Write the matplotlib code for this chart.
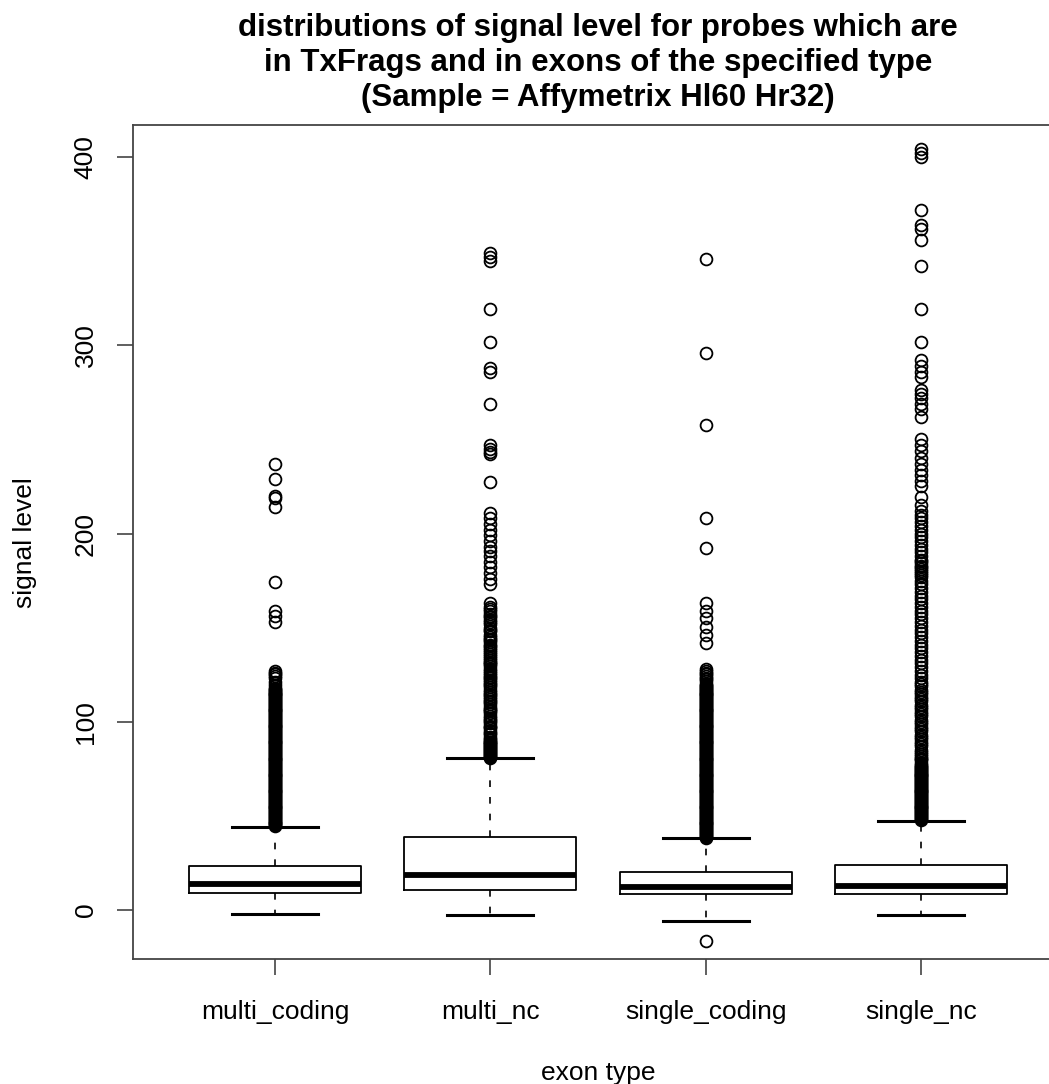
import matplotlib
matplotlib.use("Agg")
import matplotlib.pyplot as plt

# ---------------- data ----------------
categories = ["multi_coding", "multi_nc", "single_coding", "single_nc"]
q1 = [9.3, 10.8, 8.5, 8.3]
medians = [14.1, 18.6, 12.4, 12.9]
q3 = [23.5, 38.8, 20.3, 23.9]
whisker_low = [-2.1, -2.7, -5.7, -2.7]
whisker_high = [44.1, 80.6, 38.1, 47.5]

outliers_multi_coding = [
    237, 229, 220, 219, 214, 174.5, 159, 156, 153,
    127, 126, 124.5, 123, 121, 119.5, 118, 117, 116, 115, 114, 113, 112, 111,
    110, 109, 108, 107, 106, 105, 104, 103, 102, 101, 100, 99, 98, 97, 96,
    95, 94, 93, 92, 91, 90, 89, 88, 87, 86, 85, 84, 83, 82, 81, 80, 79, 78,
    77, 76, 75, 74, 73, 72, 71, 70, 69, 68, 67, 66, 65, 64, 63, 62, 61, 60,
    59, 58, 57, 56, 55, 54, 53, 52, 51, 50, 49, 48, 47.5, 47, 46.5, 46, 45.5,
    45, 44.5,
    125.5, 117.5, 116.5, 115.5, 114.5, 113.5, 112.5, 111.5, 110.5, 109.5,
    108.5, 107.5, 106.5, 105.5, 104.5, 103.5, 102.5, 101.5, 100.5, 99.5,
    98.5, 97.5, 96.5, 95.5, 94.5, 93.5, 92.5, 91.5, 90.5, 89.5, 88.5, 87.5,
    86.5, 85.5, 84.5, 83.5, 82.5, 81.5, 80.5, 79.5, 78.5, 77.5, 76.5, 75.5,
    74.5, 73.5, 72.5, 71.5, 70.5, 69.5, 68.5, 67.5, 66.5, 65.5, 64.5, 63.5,
    62.5, 61.5, 60.5, 59.5, 58.5, 57.5, 56.5, 55.5, 54.5, 53.5, 52.5, 51.5,
    50.5, 49.5, 48.5,
]
outliers_multi_nc = [
    349, 347, 345, 319, 302, 288, 286, 269, 247, 245, 243.5, 242, 227.5,
    211, 208, 205, 202, 199, 196, 193, 190.5, 188, 185, 182, 179, 176, 173,
    163, 161, 159, 157, 155.5, 154, 152, 150, 148, 146, 144, 142.5, 141, 139,
    137, 135, 133, 131, 129.5, 128, 126, 124, 122, 120, 118.5, 117, 115, 113,
    111, 109.5, 108, 106, 104.5, 103, 101, 99.5, 98, 96.5, 95, 93.5, 92, 90.5,
    89, 88, 87, 86, 85, 84, 83, 82, 81.5, 81,
    160, 156, 153, 149, 145, 143.5, 140, 138, 136, 134, 132, 130.5, 127,
    125, 123, 121, 119.5, 116, 114, 112, 110.5, 107, 105.5, 102, 100.5,
    97, 94, 91, 89.5, 88.5, 87.5, 86.5, 85.5, 84.5, 83.5, 82.5,
]
outliers_single_coding = [
    345.6, 295.7, 257.6, 208, 192.3, 163, 159, 155, 150.5, 146, 142,
    128, 126, 124.5, 123, 121.5, 120, 119, 118, 117, 116, 115, 114, 113, 112,
    111, 110, 109, 108, 107, 106, 105, 104, 103, 102, 101, 100, 99, 98, 97,
    96, 95, 94, 93, 92, 91, 90, 89, 88, 87, 86, 85, 84, 83, 82, 81, 80, 79,
    78, 77, 76, 75, 74, 73, 72, 71, 70, 69, 68, 67, 66, 65, 64, 63, 62, 61,
    60, 59, 58, 57, 56, 55, 54, 53, 52, 51, 50, 49, 48, 47, 46, 45, 44, 43,
    42, 41, 40.5, 40, 39.5, 39, 38.5,
    127, 125.5, 122.5, 119.5, 118.5, 117.5, 116.5, 115.5, 114.5, 113.5,
    112.5, 111.5, 110.5, 109.5, 108.5, 107.5, 106.5, 105.5, 104.5, 103.5,
    102.5, 101.5, 100.5, 99.5, 98.5, 97.5, 96.5, 95.5, 94.5, 93.5, 92.5,
    91.5, 90.5, 89.5, 88.5, 87.5, 86.5, 85.5, 84.5, 83.5, 82.5, 81.5, 80.5,
    79.5, 78.5, 77.5, 76.5, 75.5, 74.5, 73.5, 72.5, 71.5, 70.5, 69.5, 68.5,
    67.5, 66.5, 65.5, 64.5, 63.5, 62.5, 61.5, 60.5, 59.5, 58.5, 57.5, 56.5,
    55.5, 54.5, 53.5, 52.5, 51.5, 50.5, 49.5, 48.5, 47.5, 46.5, 45.5, 44.5,
    43.5, 42.5, 41.5,
    -16.3,
]
outliers_single_nc = [
    404, 402, 400, 372, 364, 362, 356, 342, 319, 302, 292, 289, 286, 283,
    276, 274, 272, 269, 266, 262, 250, 247, 244, 240, 237, 234, 231, 228,
    225, 219.5,
    215, 212, 210, 208, 206, 204, 202, 200, 198, 196, 194, 192, 190, 188,
    186, 184.5, 183, 181, 179, 177, 175, 173, 171, 169, 167, 165, 163, 161,
    159, 157, 155, 153, 151, 149, 147, 145, 143, 141, 139, 137, 135, 133,
    131, 129, 127, 125, 123, 121, 119, 117, 115, 113, 111, 109, 107, 105,
    103, 101, 99, 97, 95, 93, 91, 89, 87, 85, 83, 81, 79.5, 78, 77, 76, 75,
    74, 73, 72, 71, 70, 69, 68, 67, 66, 65, 64, 63, 62, 61, 60, 59, 58, 57,
    56, 55, 54, 53, 52, 51, 50.5, 50, 49.5, 49, 48.5, 48,
    185.5, 182, 180, 178, 120, 116, 112, 108, 104, 100, 96, 92, 88, 84, 82,
    80, 76.5, 75.5, 74.5, 73.5, 72.5, 71.5, 70.5, 69.5, 68.5, 67.5, 66.5,
    65.5, 64.5, 63.5, 62.5, 61.5, 60.5, 59.5, 58.5, 57.5, 56.5, 55.5, 54.5,
    53.5, 52.5, 51.5,
]
fliers = [outliers_multi_coding, outliers_multi_nc,
          outliers_single_coding, outliers_single_nc]
y_ticks = [0, 100, 200, 300, 400]

title_lines = [
    "distributions of signal level for probes which are",
    "in TxFrags and in exons of the specified type",
    "(Sample = Affymetrix Hl60 Hr32)",
]
x_label = "exon type"
y_label = "signal level"

# ---------------- figure ----------------
plt.rcParams["font.family"] = ["Liberation Sans", "DejaVu Sans"]
W, H = 1049, 1084
fig = plt.figure(figsize=(W / 100, H / 100), dpi=100)
# axes box in pixels: left 133, right 1063 (beyond the crop), top 125, bottom 959
ax = fig.add_axes([133 / W, (H - 959) / H, (1063 - 133) / W, (959 - 125) / H])

stats = []
for i, name in enumerate(categories):
    stats.append(dict(label=name, q1=q1[i], med=medians[i], q3=q3[i],
                      whislo=whisker_low[i], whishi=whisker_high[i],
                      fliers=fliers[i]))

ax.bxp(stats, positions=[1, 2, 3, 4], widths=0.8, showfliers=True,
       boxprops=dict(color="black", linewidth=1.3),
       medianprops=dict(color="black", linewidth=4.2, solid_capstyle="butt"),
       whiskerprops=dict(color="black", linewidth=1.2, linestyle=(0, (4, 6))),
       capprops=dict(color="black", linewidth=2.2),
       capwidths=0.4,
       flierprops=dict(marker="o", markersize=8.5, markerfacecolor="none",
                       markeredgecolor="black", markeredgewidth=1.3,
                       linestyle="none"))

ax.set_xlim(0.34, 4.66)
ax.set_ylim(-26, 417)
ax.set_yticks(y_ticks)
ax.set_yticklabels([str(v) for v in y_ticks], rotation=90, va="center",
                   fontsize=19)
ax.set_xticks([1, 2, 3, 4])
ax.set_xticklabels(categories, fontsize=19)
ax.tick_params(axis="both", direction="out", length=11.5, width=1.2,
               color="#444444")
ax.tick_params(axis="y", pad=14)
ax.tick_params(axis="x", pad=18)
for s in ax.spines.values():
    s.set_color("#444444")
    s.set_linewidth(1.3)

fig.text(25 / W, 1 - 543 / H, y_label, rotation=90, ha="center",
         va="center", fontsize=19)
fig.text(598 / W, 1 - 1073 / H, x_label, ha="center", va="center",
         fontsize=19)
for k, line in enumerate(title_lines):
    fig.text(598 / W, 1 - (28 + 35 * k) / H, line, ha="center", va="center",
             fontsize=22.5, fontweight="bold")

fig.savefig("out.png", dpi=100)
